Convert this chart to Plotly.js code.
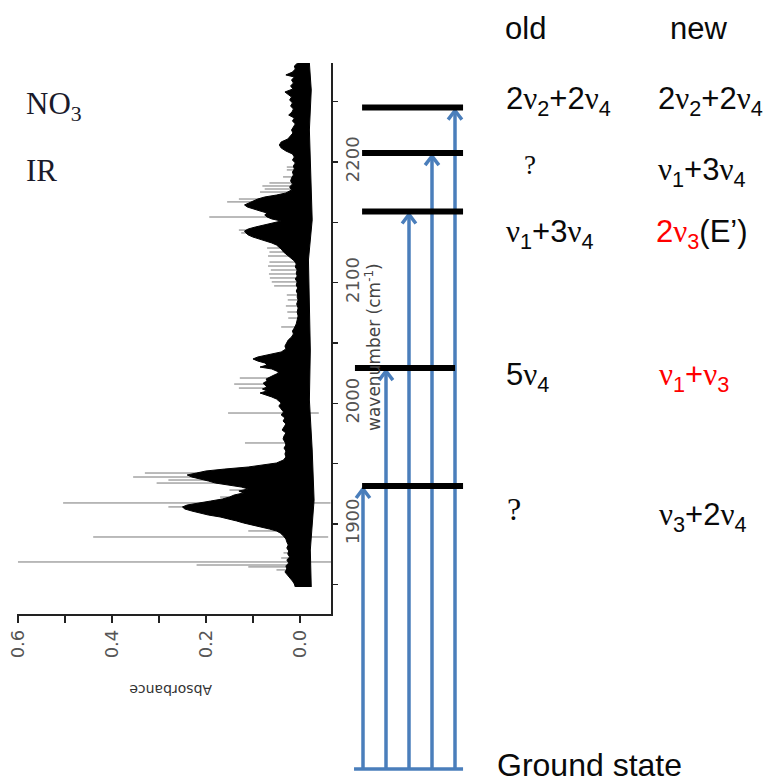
<!DOCTYPE html>
<html><head><meta charset="utf-8">
<script src="https://cdn.plot.ly/plotly-3.0.1.min.js"></script>
<style>html,body{margin:0;padding:0;background:#fff}#chart{width:775px;height:783px}</style>
</head><body><div id="chart"></div>
<script>
// ---- spectrum: wavenumber (cm-1) and absorbance of the dense band envelope ----
const specW = [2282.0,2279.5,2277.0,2274.5,2272.1,2270.4,2267.9,2265.4,2263.0,2260.5,2258.0,2256.3,2253.8,2251.4,2248.9,2246.4,2243.9,2241.4,2238.9,2236.4,2234.0,2231.5,2229.0,2226.5,2224.0,2221.5,2219.0,2216.6,2214.1,2211.6,2209.1,2206.6,2204.1,2201.6,2199.2,2196.7,2194.2,2191.7,2189.2,2186.7,2184.2,2181.8,2179.3,2176.8,2174.3,2172.6,2171.0,2169.3,2167.7,2166.0,2164.4,2162.7,2161.0,2159.4,2157.7,2156.1,2154.4,2152.8,2151.1,2149.4,2147.8,2146.1,2144.5,2142.8,2141.2,2139.5,2137.8,2136.2,2134.5,2132.9,2131.2,2129.6,2127.9,2125.4,2122.9,2120.5,2118.0,2115.5,2113.0,2110.5,2108.0,2105.5,2103.1,2100.6,2098.1,2095.6,2093.1,2090.6,2088.1,2085.7,2082.3,2079.0,2075.7,2072.4,2069.1,2065.8,2062.5,2060.0,2057.5,2055.0,2052.5,2050.0,2047.5,2045.1,2042.6,2040.1,2038.4,2036.8,2035.1,2033.5,2031.8,2030.1,2028.5,2026.8,2025.2,2023.5,2021.9,2020.2,2018.5,2016.9,2015.2,2013.6,2011.9,2010.3,2008.6,2006.9,2005.3,2003.6,2002.0,2000.3,1997.8,1995.3,1992.9,1990.4,1987.9,1985.4,1982.9,1980.4,1977.9,1975.5,1973.0,1970.5,1968.0,1965.5,1963.0,1960.5,1958.1,1955.6,1953.1,1950.6,1949.0,1947.3,1945.6,1944.0,1942.3,1940.7,1939.0,1937.4,1935.7,1934.0,1932.4,1930.7,1929.1,1927.4,1925.8,1924.1,1922.4,1920.8,1919.1,1917.5,1915.8,1914.2,1912.5,1910.8,1909.2,1907.5,1905.9,1904.2,1902.6,1900.9,1899.2,1897.6,1895.9,1894.3,1892.6,1890.1,1887.6,1885.2,1882.7,1880.2,1877.7,1875.2,1872.7,1870.2,1867.8,1865.3,1862.8,1860.3,1857.8,1855.3,1852.8,1850.4,1847.9];
const specA = [0.005,0.012,0.010,0.016,0.030,0.012,0.018,0.014,0.020,0.015,0.032,0.026,0.018,0.022,0.016,0.020,0.014,0.017,0.024,0.012,0.016,0.010,0.014,0.018,0.015,0.020,0.026,0.040,0.044,0.040,0.030,0.016,0.012,0.016,0.010,0.014,0.012,0.016,0.014,0.018,0.020,0.016,0.022,0.018,0.030,0.050,0.075,0.090,0.100,0.110,0.118,0.112,0.100,0.085,0.070,0.075,0.070,0.060,0.040,0.060,0.080,0.095,0.110,0.118,0.115,0.110,0.100,0.085,0.070,0.060,0.050,0.045,0.040,0.035,0.028,0.020,0.012,0.008,0.010,0.006,0.008,0.006,0.010,0.006,0.008,0.005,0.008,0.005,0.006,0.004,0.007,0.004,0.006,0.004,0.006,0.008,0.012,0.016,0.014,0.018,0.025,0.028,0.032,0.030,0.040,0.070,0.090,0.100,0.090,0.075,0.070,0.085,0.060,0.050,0.045,0.055,0.065,0.072,0.070,0.078,0.075,0.070,0.080,0.070,0.085,0.070,0.060,0.050,0.045,0.040,0.045,0.040,0.035,0.040,0.032,0.036,0.030,0.034,0.038,0.030,0.034,0.036,0.032,0.030,0.034,0.030,0.032,0.030,0.035,0.050,0.075,0.110,0.160,0.200,0.220,0.240,0.230,0.210,0.195,0.180,0.150,0.125,0.110,0.130,0.120,0.140,0.150,0.165,0.190,0.220,0.240,0.250,0.245,0.230,0.215,0.195,0.170,0.150,0.135,0.120,0.100,0.080,0.065,0.050,0.042,0.035,0.030,0.028,0.025,0.028,0.024,0.026,0.022,0.028,0.024,0.030,0.028,0.032,0.026,0.020,0.016,0.012,0.010];
// negative-side noise edge of the band
const edgeW = [2282.0,2259.6,2226.5,2193.4,2152.0,2118.8,2085.7,2044.2,2002.8,1961.4,1919.9,1878.5,1847.9];
const edgeA = [-0.020,-0.024,-0.020,-0.022,-0.026,-0.018,-0.020,-0.022,-0.020,-0.026,-0.030,-0.022,-0.024];
// isolated sharp lines
const spikeW  = [2195.8,2193.4,2187.6,2182.6,2180.1,2177.6,2175.1,2169.3,2166.9,2154.4,2143.6,2141.2,2128.7,2125.4,2122.1,2117.1,2113.8,2110.5,2107.2,2103.9,2100.6,2097.3,2089.8,2085.7,2080.7,2075.7,2070.7,2063.3,2021.0,2016.0,2012.7,1992.0,1967.2,1942.3,1939.0,1936.5,1934.0,1928.2,1922.4,1917.5,1914.2,1894.3,1889.3,1876.1,1871.9,1868.6,1866.1,1864.5,1862.0];
const spikeHi = [0.028,0.028,0.036,0.065,0.080,0.075,0.085,0.130,0.155,0.193,0.130,0.125,0.070,0.065,0.068,0.065,0.068,0.062,0.066,0.064,0.060,0.055,0.028,0.026,0.030,0.027,0.025,0.040,0.128,0.140,0.130,0.153,0.117,0.330,0.355,0.280,0.305,0.150,0.170,0.504,0.280,0.110,0.440,0.035,0.040,0.600,0.220,0.110,0.050];
const spikeLo = [-0.01,-0.01,-0.01,-0.01,-0.01,-0.01,-0.01,-0.01,-0.01,-0.01,-0.01,-0.01,-0.01,-0.01,-0.01,-0.01,-0.01,-0.01,-0.01,-0.01,-0.01,-0.01,-0.01,-0.01,-0.01,-0.01,-0.01,-0.01,-0.01,-0.01,-0.01,-0.040,-0.01,-0.01,-0.01,-0.01,-0.01,-0.01,-0.01,-0.065,-0.01,-0.01,-0.060,-0.01,-0.01,-0.066,-0.01,-0.01,-0.01];

// ---- energy levels (cm-1), bottom to top ----
const levelW = [1931.6, 2029.3, 2159.0, 2207.4, 2245.1];
// labels, top to bottom
const oldLabels = ['2ν<sub>2</sub>+2ν<sub>4</sub>', '?', 'ν<sub>1</sub>+3ν<sub>4</sub>', '5ν<sub>4</sub>', '?'];
const newLabels = ['2ν<sub>2</sub>+2ν<sub>4</sub>', 'ν<sub>1</sub>+3ν<sub>4</sub>', '<span style="color:#ff0000">2ν<sub>3</sub></span>(E’)', '<span style="color:#ff0000">ν<sub>1</sub>+ν<sub>3</sub></span>', 'ν<sub>3</sub>+2ν<sub>4</sub>'];
// axis ticks
const wnTickVals = [1850, 1900, 1950, 2000, 2050, 2100, 2150, 2200, 2250];
const wnTickText = ['', '1900', '', '2000', '', '2100', '', '2200', ''];
const absTickVals = [0, 0.1, 0.2, 0.3, 0.4, 0.5, 0.6];
const absTickText = ['0.0', '', '0.2', '', '0.4', '', '0.6'];

// ---------------- layout helpers ----------------
const W = 775, H = 783;
const px = x => x / W, py = y => 1 - y / H;
const NU = '<span style="font-family:Liberation Serif">ν</span>';
const nu = s => s.replace(/ν/g, NU);
const BLUE = '#4a7ebb';
const groundW = 1697.1;
const arrowGap = 2.5, headH = 7.5, headHalf = 0.3;

const traces = [];
// spikes
const sx = [], sy = [];
spikeW.forEach((w, i) => { sx.push(spikeLo[i], spikeHi[i], null); sy.push(w, w, null); });
traces.push({type:'scatter', mode:'lines', x:sx, y:sy, xaxis:'x', yaxis:'y',
  line:{color:'rgba(95,95,95,0.85)', width:1}, hoverinfo:'skip'});
// band
traces.push({type:'scatter', mode:'lines', x:edgeA, y:edgeW, xaxis:'x', yaxis:'y',
  line:{color:'#000', width:1}, hoverinfo:'skip'});
const n = Math.min(specW.length, specA.length);
traces.push({type:'scatter', mode:'lines', x:specA.slice(0,n), y:specW.slice(0,n), xaxis:'x', yaxis:'y',
  fill:'tonextx', fillcolor:'#000', line:{color:'#000', width:1}, hoverinfo:'skip'});

// diagram: arrows
const ax = [], ay = [];
levelW.forEach((w, i) => {
  const tip = w - arrowGap;
  ax.push(i, i, null, i - headHalf, i, i + headHalf, null);
  ay.push(groundW, tip, null, tip - headH, tip, tip - headH, null);
});
traces.push({type:'scatter', mode:'lines', x:ax, y:ay, xaxis:'x2', yaxis:'y2',
  line:{color:BLUE, width:3.5}, hoverinfo:'skip'});
// ground line
traces.push({type:'scatter', mode:'lines', x:[-0.39, 4.35], y:[groundW, groundW], xaxis:'x2', yaxis:'y2',
  line:{color:BLUE, width:3.5}, hoverinfo:'skip'});
// level bars
const bx = [], by = [];
const barExt = [[-0.04, 4.35], [-0.35, 4.0], [-0.04, 4.35], [-0.04, 4.35], [-0.04, 4.35]];
levelW.forEach((w, i) => { bx.push(barExt[i][0], barExt[i][1], null); by.push(w, w, null); });
traces.push({type:'scatter', mode:'lines', x:bx, y:by, xaxis:'x2', yaxis:'y2',
  line:{color:'#000', width:6}, hoverinfo:'skip'});

// annotations
const SANS = 'Liberation Sans, Arial, sans-serif';
const SERIF = 'Liberation Serif, Times New Roman, serif';
const ann = [];
function t(text, x, y, size, family, color) {
  ann.push({text:text, x:px(x), y:py(y), xref:'paper', yref:'paper',
    xanchor:'left', yanchor:'middle', showarrow:false,
    font:{family:family || SANS, size:size || 31, color:color || '#0a0a0a'}});
}
t('old', 503, 28);
t('new', 668, 28);
const rowY = [101, 172, 234, 377, 517];
const oldX = [504, 522, 504, 504, 505];
const newX = [656, 656, 654, 657, 657];
oldLabels.forEach((s, i) => {
  if (s === '?') t('?', oldX[i], i === 1 ? 165 : 509, i === 1 ? 27 : 32, SERIF);
  else t(nu(s), oldX[i], rowY[i]);
});
newLabels.forEach((s, i) => t(nu(s), newX[i], rowY[i]));
t('Ground state', 495, 765, 32);
t('NO<sub>3</sub>', 24, 106, 31, SERIF, '#1a1a2a');
t('IR', 24, 170, 31, SERIF, '#1a1a2a');
// axis titles of the rotated spectrum
ann.push({text:'Absorbance', x:px(171), y:py(690), xref:'paper', yref:'paper', xanchor:'center', yanchor:'middle',
  showarrow:false, textangle:180, font:{family:'DejaVu Sans, sans-serif', size:14, color:'#333'}});
ann.push({text:'wavenumber (cm<sup>-1</sup>)', x:px(373), y:py(347), xref:'paper', yref:'paper', xanchor:'center', yanchor:'middle',
  showarrow:false, textangle:-90, font:{family:'DejaVu Sans, sans-serif', size:17, color:'#444'}});

const tickFont = {family:'DejaVu Sans, sans-serif', size:18, color:'#555'};
const layout = {
  width:W, height:H, margin:{l:0, r:0, t:0, b:0}, paper_bgcolor:'#fff', plot_bgcolor:'rgba(0,0,0,0)',
  showlegend:false,
  xaxis:{domain:[px(17), px(331)], anchor:'y', range:[0.6021, -0.066], showline:true, linecolor:'#222', linewidth:1.5,
    ticks:'outside', ticklen:7, tickwidth:1.5, tickcolor:'#222', tickmode:'array', tickvals:absTickVals, ticktext:absTickText,
    tickangle:-90, tickfont:tickFont, showgrid:false, zeroline:false, fixedrange:true},
  yaxis:{domain:[py(614), py(63)], anchor:'x', side:'right', range:[1825.5, 2282.0], showline:true, linecolor:'#222', linewidth:1.5,
    ticks:'outside', ticklen:5, tickwidth:1.5, tickcolor:'#222', tickmode:'array', tickvals:wnTickVals, ticktext:wnTickText,
    tickangle:-90, tickfont:tickFont, showgrid:false, zeroline:false, fixedrange:true},
  xaxis2:{domain:[0,1], anchor:'y2', range:[-363/23, (W-363)/23], visible:false, fixedrange:true},
  yaxis2:{domain:[0,1], anchor:'x2', range:[1685.5, 2334.2], visible:false, fixedrange:true},
  annotations:ann
};
Plotly.newPlot('chart', traces, layout, {displayModeBar:false, staticPlot:true});
</script></body></html>
